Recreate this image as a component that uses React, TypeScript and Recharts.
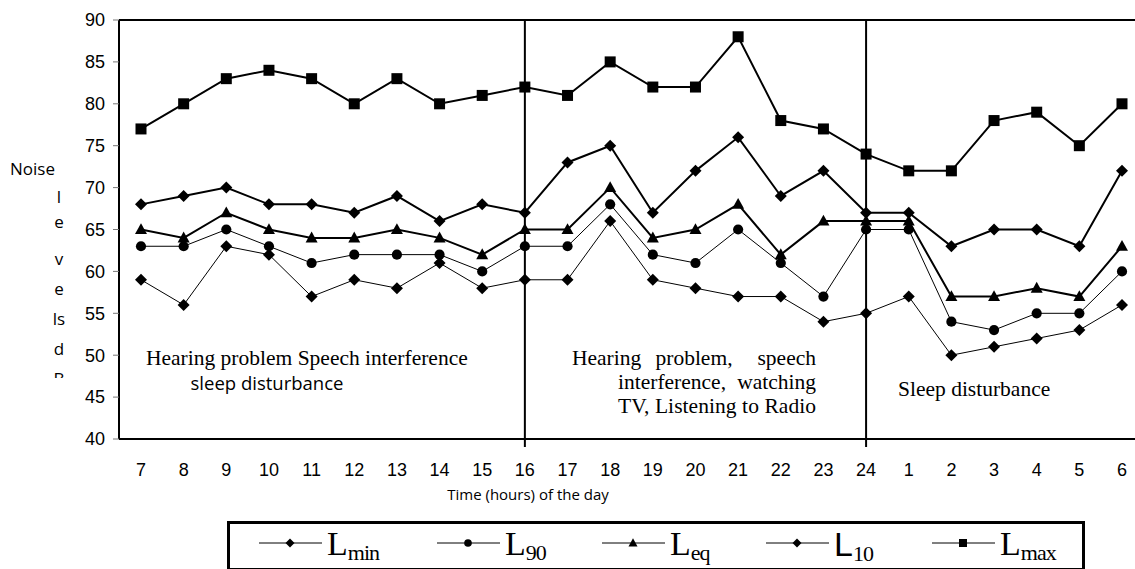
import { Customized, Legend, Line, LineChart, ReferenceLine, XAxis, YAxis } from 'recharts';

const HOURS = ['7', '8', '9', '10', '11', '12', '13', '14', '15', '16', '17', '18', '19', '20', '21', '22', '23', '24', '1', '2', '3', '4', '5', '6'];
const L_MIN = [59, 56, 63, 62, 57, 59, 58, 61, 58, 59, 59, 66, 59, 58, 57, 57, 54, 55, 57, 50, 51, 52, 53, 56];
const L_90 = [63, 63, 65, 63, 61, 62, 62, 62, 60, 63, 63, 68, 62, 61, 65, 61, 57, 65, 65, 54, 53, 55, 55, 60];
const L_EQ = [65, 64, 67, 65, 64, 64, 65, 64, 62, 65, 65, 70, 64, 65, 68, 62, 66, 66, 66, 57, 57, 58, 57, 63];
const L_10 = [68, 69, 70, 68, 68, 67, 69, 66, 68, 67, 73, 75, 67, 72, 76, 69, 72, 67, 67, 63, 65, 65, 63, 72];
const L_MAX = [77, 80, 83, 84, 83, 80, 83, 80, 81, 82, 81, 85, 82, 82, 88, 78, 77, 74, 72, 72, 78, 79, 75, 80];
const Y_TICKS = [40, 45, 50, 55, 60, 65, 70, 75, 80, 85, 90];
const DIVIDERS = ['16', '24'];
const Y_LABEL = ['l', 'e', 'v', 'e', 'ls', 'd', 'B'];

const data = HOURS.map((hour, i) => ({
  hour,
  lmin: L_MIN[i],
  l90: L_90[i],
  leq: L_EQ[i],
  l10: L_10[i],
  lmax: L_MAX[i],
}));

const SANS = '"Liberation Sans", Arial, sans-serif';
const SERIF = '"Liberation Serif", "Times New Roman", serif';
const CALIBRI = '"Open Sans", "Noto Sans", sans-serif';
const TICK_SIZE = 8;
const TICK_MARGIN = 16;

type Shape = 'diamond' | 'circle' | 'triangle' | 'square';

function Marker({ cx, cy, shape, s }: { cx: number; cy: number; shape: Shape; s: number }) {
  if (shape === 'circle') return <circle cx={cx} cy={cy} r={s * 0.85} fill="#000" />;
  if (shape === 'square') return <rect x={cx - s} y={cy - s} width={s * 2} height={s * 2} fill="#000" />;
  if (shape === 'triangle')
    return <path d={`M${cx},${cy - s * 1.05}L${cx + s},${cy + s * 0.75}L${cx - s},${cy + s * 0.75}Z`} fill="#000" />;
  return <path d={`M${cx},${cy - s}L${cx + s},${cy}L${cx},${cy + s}L${cx - s},${cy}Z`} fill="#000" />;
}

const SERIES: { key: string; sub: string; shape: Shape; width: number; size: number }[] = [
  { key: 'lmin', sub: 'min', shape: 'diamond', width: 1, size: 6 },
  { key: 'l90', sub: '90', shape: 'circle', width: 1, size: 6 },
  { key: 'leq', sub: 'eq', shape: 'triangle', width: 2, size: 6 },
  { key: 'l10', sub: '10', shape: 'diamond', width: 2, size: 6 },
  { key: 'lmax', sub: 'max', shape: 'square', width: 2, size: 5.5 },
];

const LEGEND_WIDTHS = [178, 165, 164, 166, 150];

function HourTick(props: any) {
  const { x, y, payload } = props;
  return (
    <g>
      {DIVIDERS.includes(payload.value) && (
        <line x1={x} x2={x} y1={y - TICK_MARGIN - TICK_SIZE} y2={y - TICK_MARGIN} stroke="#000" strokeWidth={2} />
      )}
      <text x={x} y={y} dy="0.71em" textAnchor="middle" fontFamily={SANS} fontSize={18} fill="#000">
        {payload.value}
      </text>
    </g>
  );
}

function renderLegend(props: any) {
  const order = SERIES.map((s) => s.key);
  const payload = [...(props.payload || [])].sort(
    (a: any, b: any) => order.indexOf(a.dataKey) - order.indexOf(b.dataKey)
  );
  return (
    <div
      style={{
        border: '3px solid #000',
        height: 50,
        boxSizing: 'border-box',
        display: 'flex',
        alignItems: 'center',
        paddingLeft: 29,
      }}
    >
      {payload.map((entry: any, i: number) => {
        const s = SERIES.find((d) => d.key === entry.dataKey) || SERIES[0];
        return (
          <div key={s.key} style={{ width: LEGEND_WIDTHS[i], display: 'flex', alignItems: 'center' }}>
            <svg width={63} height={14} style={{ marginTop: -6 }}>
              <line x1={0} x2={63} y1={7} y2={7} stroke="#000" strokeWidth={1} />
              <Marker cx={31} cy={7} shape={s.shape} s={s.shape === 'square' ? 4 : 4.5} />
            </svg>
            <span style={{ fontFamily: s.key === 'l10' ? SANS : SERIF, fontSize: 34, marginLeft: 5, lineHeight: '34px' }}>
              L
              <span style={{ fontFamily: SERIF, fontSize: 22, position: 'relative', top: 5, letterSpacing: -1 }}>{s.sub}</span>
            </span>
          </div>
        );
      })}
    </div>
  );
}

function Annotations() {
  return (
    <g fill="#000">
      <defs>
        <clipPath id="ylab-clip">
          <rect x={0} y={0} width={119} height={378} />
        </clipPath>
      </defs>
      <text x={10} y={175} fontFamily={CALIBRI} fontSize={17}>
        Noise
      </text>
      <g clipPath="url(#ylab-clip)" fontFamily={CALIBRI} fontSize={17} textAnchor="middle">
        {Y_LABEL.map((ch, i) => (
          <text key={i} x={59} y={[203, 228, 265, 295, 325, 355, 385][i]}>
            {ch}
          </text>
        ))}
      </g>
      <text x={528} y={500} textAnchor="middle" fontFamily={CALIBRI} fontSize={15}>
        Time (hours) of the day
      </text>
      <g fontFamily={SERIF} fontSize={21.5}>
        <text x={146} y={365}>Hearing problem Speech interference</text>
        <text x={572} y={365}>Hearing</text>
        <text x={694} y={365} textAnchor="middle">problem,</text>
        <text x={816} y={365} textAnchor="end">speech</text>
        <text x={618} y={389}>interference,</text>
        <text x={816} y={389} textAnchor="end">watching</text>
        <text x={618} y={413} textLength={198}>TV, Listening to Radio</text>
        <text x={898} y={396}>Sleep disturbance</text>
      </g>
      <text x={267} y={390} textAnchor="middle" fontFamily={CALIBRI} fontSize={18.5}>
        sleep disturbance
      </text>
    </g>
  );
}

export default function App() {
  return (
    <div style={{ position: 'absolute', left: 0, top: 0, background: '#fff' }}>
      <LineChart width={1135} height={569} data={data} margin={{ top: 20, right: 0, bottom: 100, left: 0 }}>
        <XAxis
          dataKey="hour"
          height={30}
          padding={{ left: 22, right: 13 }}
          axisLine={{ stroke: '#000', strokeWidth: 2 }}
          tickLine={false}
          tickSize={TICK_SIZE}
          tickMargin={TICK_MARGIN}
          tick={<HourTick />}
          interval={0}
        />
        <YAxis
          width={119}
          domain={[40, 90]}
          ticks={Y_TICKS}
          axisLine={{ stroke: '#000', strokeWidth: 2 }}
          tickLine={{ stroke: '#777' }}
          tickSize={6}
          tickMargin={8}
          tick={{ fill: '#000', fontSize: 18, fontFamily: SANS }}
          interval={0}
        />
        <ReferenceLine y={90} stroke="#000" strokeWidth={2} />
        {DIVIDERS.map((h) => (
          <ReferenceLine key={h} x={h} stroke="#000" strokeWidth={2} />
        ))}
        {SERIES.map((s) => (
          <Line
            key={s.key}
            dataKey={s.key}
            stroke="#000"
            strokeWidth={s.width}
            isAnimationActive={false}
            legendType="line"
            dot={(p: any) => <Marker key={`${s.key}-${p.index}`} cx={p.cx} cy={p.cy} shape={s.shape} s={s.size} />}
            activeDot={false}
          />
        ))}
        <Legend
          layout="horizontal"
          verticalAlign="middle"
          content={renderLegend}
          wrapperStyle={{ left: 227, top: 521, width: 858, height: 50 }}
        />
        <Customized component={Annotations} />
      </LineChart>
    </div>
  );
}
